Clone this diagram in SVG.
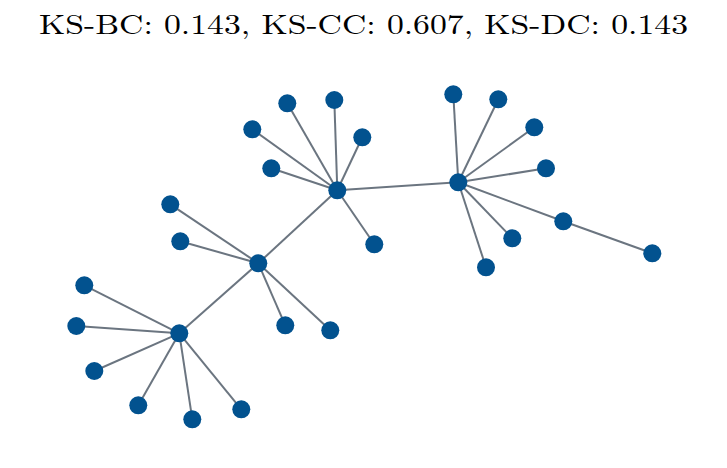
<svg xmlns="http://www.w3.org/2000/svg" width="727" height="468" viewBox="0 0 727 468">
<style>
.e{stroke:#6b7580;stroke-width:2;fill:none}
.n{fill:#02528f}
.t{font-family:"Latin Modern Roman","Liberation Serif",serif;font-size:28px;fill:#000}
</style>
<rect width="727" height="468" fill="#fff"/>
<text class="t" x="363.5" y="34" text-anchor="middle" textLength="649" lengthAdjust="spacingAndGlyphs">KS-BC: 0.143, KS-CC: 0.607, KS-DC: 0.143</text>
<g id="edges">
<line class="e" x1="337.3" y1="190.3" x2="287.3" y2="103.3"/>
<line class="e" x1="337.3" y1="190.3" x2="334.3" y2="100"/>
<line class="e" x1="337.3" y1="190.3" x2="252.3" y2="129.3"/>
<line class="e" x1="337.3" y1="190.3" x2="362.3" y2="137.3"/>
<line class="e" x1="337.3" y1="190.3" x2="271.3" y2="168.3"/>
<line class="e" x1="337.3" y1="190.3" x2="374.3" y2="244.3"/>
<line class="e" x1="337.3" y1="190.3" x2="458.3" y2="182.3"/>
<line class="e" x1="337.3" y1="190.3" x2="258.3" y2="263.3"/>
<line class="e" x1="458.3" y1="182.3" x2="453.3" y2="94.3"/>
<line class="e" x1="458.3" y1="182.3" x2="498.3" y2="99.3"/>
<line class="e" x1="458.3" y1="182.3" x2="534.3" y2="127.3"/>
<line class="e" x1="458.3" y1="182.3" x2="546" y2="168.3"/>
<line class="e" x1="458.3" y1="182.3" x2="563.3" y2="221.3"/>
<line class="e" x1="458.3" y1="182.3" x2="512.3" y2="238.3"/>
<line class="e" x1="458.3" y1="182.3" x2="486" y2="267.3"/>
<line class="e" x1="563.3" y1="221.3" x2="652.3" y2="253.3"/>
<line class="e" x1="258.3" y1="263.3" x2="170.3" y2="204.3"/>
<line class="e" x1="258.3" y1="263.3" x2="180.3" y2="241.3"/>
<line class="e" x1="258.3" y1="263.3" x2="285.3" y2="325.3"/>
<line class="e" x1="258.3" y1="263.3" x2="330.3" y2="330.3"/>
<line class="e" x1="258.3" y1="263.3" x2="179.3" y2="333.3"/>
<line class="e" x1="179.3" y1="333.3" x2="84.3" y2="285.3"/>
<line class="e" x1="179.3" y1="333.3" x2="76.3" y2="326"/>
<line class="e" x1="179.3" y1="333.3" x2="94.3" y2="371"/>
<line class="e" x1="179.3" y1="333.3" x2="138.3" y2="405.3"/>
<line class="e" x1="179.3" y1="333.3" x2="192.3" y2="419.3"/>
<line class="e" x1="179.3" y1="333.3" x2="241.3" y2="409.3"/>
</g>
<g id="n0"><circle class="n" cx="337.3" cy="190.3" r="9"/></g>
<g id="n1"><circle class="n" cx="287.3" cy="103.3" r="9"/></g>
<g id="n2"><circle class="n" cx="334.3" cy="100" r="9"/></g>
<g id="n3"><circle class="n" cx="252.3" cy="129.3" r="9"/></g>
<g id="n4"><circle class="n" cx="362.3" cy="137.3" r="9"/></g>
<g id="n5"><circle class="n" cx="271.3" cy="168.3" r="9"/></g>
<g id="n6"><circle class="n" cx="374.3" cy="244.3" r="9"/></g>
<g id="n7"><circle class="n" cx="458.3" cy="182.3" r="9"/></g>
<g id="n8"><circle class="n" cx="453.3" cy="94.3" r="9"/></g>
<g id="n9"><circle class="n" cx="498.3" cy="99.3" r="9"/></g>
<g id="n10"><circle class="n" cx="534.3" cy="127.3" r="9"/></g>
<g id="n11"><circle class="n" cx="546" cy="168.3" r="9"/></g>
<g id="n12"><circle class="n" cx="563.3" cy="221.3" r="9"/></g>
<g id="n13"><circle class="n" cx="512.3" cy="238.3" r="9"/></g>
<g id="n14"><circle class="n" cx="486" cy="267.3" r="9"/></g>
<g id="n15"><circle class="n" cx="652.3" cy="253.3" r="9"/></g>
<g id="n16"><circle class="n" cx="258.3" cy="263.3" r="9"/></g>
<g id="n17"><circle class="n" cx="170.3" cy="204.3" r="9"/></g>
<g id="n18"><circle class="n" cx="180.3" cy="241.3" r="9"/></g>
<g id="n19"><circle class="n" cx="285.3" cy="325.3" r="9"/></g>
<g id="n20"><circle class="n" cx="330.3" cy="330.3" r="9"/></g>
<g id="n21"><circle class="n" cx="179.3" cy="333.3" r="9"/></g>
<g id="n22"><circle class="n" cx="84.3" cy="285.3" r="9"/></g>
<g id="n23"><circle class="n" cx="76.3" cy="326" r="9"/></g>
<g id="n24"><circle class="n" cx="94.3" cy="371" r="9"/></g>
<g id="n25"><circle class="n" cx="138.3" cy="405.3" r="9"/></g>
<g id="n26"><circle class="n" cx="192.3" cy="419.3" r="9"/></g>
<g id="n27"><circle class="n" cx="241.3" cy="409.3" r="9"/></g>
</svg>
